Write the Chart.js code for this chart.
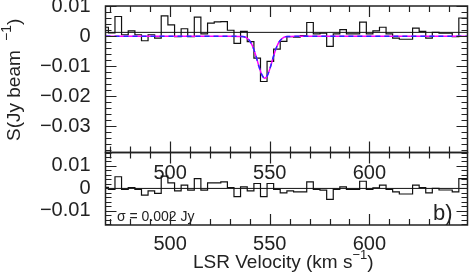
<!DOCTYPE html>
<html>
<head>
<meta charset="utf-8">
<script src="https://cdn.jsdelivr.net/npm/chart.js@4/dist/chart.umd.min.js"></script>
<style>
  html, body { margin: 0; padding: 0; background: #fff; }
  #wrap { position: relative; width: 469px; height: 273px; }
  #wrap canvas { position: absolute; left: 0; top: 0; }
</style>
</head>
<body>
<div id="wrap">
  <canvas id="spec" width="469" height="273"></canvas>
  <canvas id="resid" width="469" height="273"></canvas>
</div>
<script>
Chart.defaults.font.family = 'Liberation Sans';
Chart.defaults.color = '#222';
Chart.defaults.animation = false;

// channel centres (km/s)
const vel = [467.4, 470.7, 474.0, 477.3, 480.7, 484.0, 487.3, 490.6, 493.9, 497.2,
  500.6, 503.9, 507.2, 510.5, 513.8, 517.1, 520.5, 523.8, 527.1, 530.4,
  533.7, 537.0, 540.4, 543.7, 547.0, 550.3, 553.6, 556.9, 560.3, 563.6,
  566.9, 570.2, 573.5, 576.9, 580.2, 583.5, 586.8, 590.1, 593.4, 596.8,
  600.1, 603.4, 606.7, 610.0, 613.3, 616.7, 620.0, 623.3, 626.6, 629.9,
  633.2, 636.6, 639.9, 643.2, 646.5, 649.8];
// spectrum (Jy/beam)
const flux = [0.0030, 0.0011, 0.0066, 0.0005, 0.0018, 0.0005, -0.0015, 0.0005, -0.0006, 0.0068,
  0.0038, -0.0001, 0.0025, -0.0001, 0.0064, 0.0008, 0.0044, 0.0048, 0.0049, 0.0020,
  -0.0024, 0.0016, -0.0018, -0.0073, -0.0151, -0.0084, -0.0043, -0.0017, -0.0001, -0.0003,
  0.0002, 0.0046, 0.0008, 0.0010, -0.0034, 0.0008, 0.0022, 0.0008, 0.0008, 0.0047,
  0.0008, 0.0018, 0.0030, 0.0008, -0.0006, -0.0010, -0.0010, 0.0027, 0.0016, -0.0006,
  0.0013, 0.0010, 0.0010, -0.0001, 0.0061, 0.0061];
// residuals (Jy/beam)
const resid = [0.0005, -0.0004, 0.0052, -0.0004, 0.0004, -0.0004, -0.0030, -0.0011, -0.0022, 0.0055,
  0.0025, -0.0011, 0.0015, -0.0008, 0.0044, -0.0008, 0.0025, 0.0025, 0.0029, 0.0004,
  -0.0037, 0.0007, -0.0011, 0.0022, -0.0037, 0.0022, -0.0004, -0.0020, -0.0011, -0.0015,
  -0.0015, 0.0029, -0.0004, -0.0008, -0.0049, -0.0004, 0.0007, -0.0004, -0.0004, 0.0032,
  -0.0004, 0.0003, 0.0015, -0.0004, -0.0015, -0.0025, -0.0025, 0.0015, 0.0004, -0.0020,
  0.0000, -0.0007, -0.0007, -0.0015, 0.0044, 0.0044];
// gaussian fit
const fitVel = [467.6, 530, 536, 538, 540, 541.5, 543, 544.5, 546, 547.5, 549, 550.5, 552, 553.5, 555, 557, 559, 565, 649.2];
const fitFlux = [0, 0, -0.0001, -0.0004, -0.0016, -0.0035, -0.0064, -0.0099, -0.0128, -0.0140,
  -0.0128, -0.0099, -0.0064, -0.0035, -0.0016, -0.0004, -0.0001, 0, 0];
const contLevel = 0.0013;

const X_RANGE = [467.6, 649.2];
const xTicks = [500, 550, 600];
const yTicksSpec = [0.01, 0, -0.01, -0.02, -0.03];
const yTicksResid = [0.01, 0, -0.01];

const pts = (xs, ys) => xs.map((v, i) => ({ x: v, y: ys[i] }));
const fmtY = v => Math.abs(v) < 1e-9 ? '0' : (v < 0 ? '\u2212' : '') + Math.abs(v).toFixed(2);

// inward tick marks + frame, PGPLOT style
const frame = {
  id: 'frame',
  afterDatasetsDraw(chart) {
    const { ctx, chartArea: a, scales: { x, y } } = chart;
    ctx.save();
    ctx.strokeStyle = '#222';
    ctx.lineWidth = 1.2;
    ctx.beginPath();
    for (let v = Math.ceil(x.min / 10) * 10; v <= x.max; v += 10) {
      const px = Math.round(x.getPixelForValue(v)) + 0.5, len = v % 50 === 0 ? 11 : 6;
      ctx.moveTo(px, a.top); ctx.lineTo(px, a.top + len);
      ctx.moveTo(px, a.bottom); ctx.lineTo(px, a.bottom - len);
    }
    for (let k = Math.ceil(y.min / 0.002); k * 0.002 <= y.max + 1e-9; k++) {
      const py = Math.round(y.getPixelForValue(k * 0.002)) + 0.5, len = k % 5 === 0 ? 11 : 6;
      ctx.moveTo(a.left, py); ctx.lineTo(a.left + len, py);
      ctx.moveTo(a.right, py); ctx.lineTo(a.right - len, py);
    }
    ctx.stroke();
    ctx.lineWidth = 1.5;
    ctx.strokeRect(a.left, a.top, a.right - a.left, a.bottom - a.top);
    ctx.restore();
  }
};

// text with a raised "-1" part
function supText(ctx, x, y, parts, size, supSize) {
  let cx = x;
  for (const p of parts) {
    ctx.font = `${p.sup ? supSize : size}px "Liberation Sans"`;
    ctx.fillText(p.t, cx, p.sup ? y - size * 0.45 : y);
    cx += ctx.measureText(p.t).width;
  }
}

const notes = {
  id: 'notes',
  afterDraw(chart, args, o) {
    const ctx = chart.ctx;
    ctx.save();
    ctx.fillStyle = '#222';
    ctx.textBaseline = 'alphabetic';
    if (o.yTitle) {
      ctx.translate(20, 141);
      ctx.rotate(-Math.PI / 2);
      supText(ctx, 0, 0, [{ t: 'S(Jy beam ' }, { t: ' \u22121', sup: true }, { t: ')' }], 19, 14);
      ctx.setTransform(1, 0, 0, 1, 0, 0);
    }
    if (o.xTitle) {
      supText(ctx, 193, 268, [{ t: 'LSR Velocity (km s' }, { t: '\u22121', sup: true }, { t: ')' }], 19, 13);
    }
    if (o.sigma) {
      ctx.font = '14px "Liberation Sans"';
      ctx.fillText(o.sigma, 117, 221);
    }
    if (o.panel) {
      ctx.font = '22px "Liberation Sans"';
      ctx.fillText(o.panel, 433, 220);
    }
    ctx.restore();
  }
};

function axes(yMin, yMax, yTicks, xPad, xHeight) {
  return {
    x: {
      type: 'linear', min: X_RANGE[0], max: X_RANGE[1],
      grid: { display: false, drawTicks: false }, border: { display: false },
      afterBuildTicks: s => { s.ticks = xTicks.map(v => ({ value: v })); },
      afterFit: s => { s.height = xHeight; s.paddingLeft = 0; s.paddingRight = 0; },
      ticks: { font: { size: 20 }, padding: xPad, maxRotation: 0, autoSkip: false, color: '#222' },
    },
    y: {
      type: 'linear', min: yMin, max: yMax,
      grid: { display: false, drawTicks: false }, border: { display: false },
      afterBuildTicks: s => { s.ticks = yTicks.map(v => ({ value: v })); },
      afterFit: s => { s.width = 105.5; s.paddingTop = 0; s.paddingBottom = 0; },
      ticks: { font: { size: 20 }, padding: 15, callback: fmtY, color: '#222' },
    },
  };
}

const line = (data, color, extra) => Object.assign({
  data, borderColor: color, borderWidth: 1.2, pointRadius: 0, fill: false,
}, extra);

new Chart(document.getElementById('spec'), {
  type: 'line',
  data: {
    datasets: [
      line(pts(fitVel, fitFlux), '#2a2aff', { borderDash: [5, 4], borderWidth: 1.5, cubicInterpolationMode: 'monotone', order: 0 }),
      line(pts(fitVel, fitFlux), '#ff00ff', { borderWidth: 1.5, cubicInterpolationMode: 'monotone', order: 1 }),
      line(pts(vel, flux), '#111', { stepped: 'middle', order: 2 }),
      line(pts(X_RANGE, [contLevel, contLevel]), '#111', { borderWidth: 1, order: 3 }),
    ],
  },
  options: {
    responsive: false, events: [],
    layout: { padding: { left: 0, right: 1.5, top: 6, bottom: 273 - 152.5 - 40 } },
    plugins: { legend: { display: false }, tooltip: { enabled: false }, notes: { yTitle: true } },
    scales: axes(-0.0388, 0.0101, yTicksSpec, 9, 40),
  },
  plugins: [frame, notes],
});

new Chart(document.getElementById('resid'), {
  type: 'line',
  data: {
    datasets: [
      line(pts(vel, resid), '#111', { stepped: 'middle', order: 0 }),
      line(pts(X_RANGE, [0, 0]), '#111', { borderWidth: 1, order: 1 }),
    ],
  },
  options: {
    responsive: false, events: [],
    layout: { padding: { left: 0, right: 1.5, top: 152.5, bottom: 0 } },
    plugins: { legend: { display: false }, tooltip: { enabled: false },
      notes: { xTitle: true, sigma: '\u03c3 = 0.002 Jy', panel: 'b)' } },
    scales: axes(-0.0163, 0.0160, yTicksResid, 7.5, 48),
  },
  plugins: [frame, notes],
});
</script>
</body>
</html>
